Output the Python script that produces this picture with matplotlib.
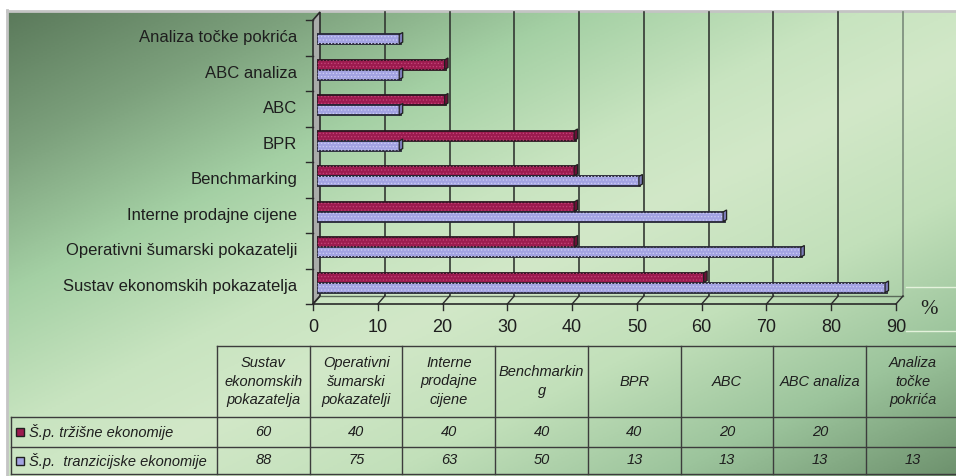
import numpy as np
import matplotlib.pyplot as plt
from matplotlib.colors import LinearSegmentedColormap
from matplotlib.patches import Polygon, Rectangle
from matplotlib.transforms import ScaledTranslation

plt.rcParams['font.family'] = ['Liberation Sans', 'DejaVu Sans']
plt.rcParams['hatch.linewidth'] = 0.5

# data
categories = ['Sustav ekonomskih pokazatelja', 'Operativni šumarski pokazatelji',
              'Interne prodajne cijene', 'Benchmarking', 'BPR', 'ABC',
              'ABC analiza', 'Analiza točke pokrića']
trzisne = [60, 40, 40, 40, 40, 20, 20, None]
tranzicijske = [88, 75, 63, 50, 13, 13, 13, 13]
table_headers = ['Sustav\nekonomskih\npokazatelja', 'Operativni\nšumarski\npokazatelji',
                 'Interne\nprodajne\ncijene', 'Benchmarkin\ng', 'BPR', 'ABC',
                 'ABC analiza', 'Analiza\ntočke\npokrića']
series_names = ['Š.p. tržišne ekonomije', 'Š.p.  tranzicijske ekonomije']
x_ticks = list(range(0, 100, 10))

RED = '#9c1b4f'
BLUE = '#a3a3e2'
INK = '#1e1e1e'

W, H = 956, 476
fig = plt.figure(figsize=(W / 100, H / 100), dpi=100)

# background canvas in pixel coordinates
bg = fig.add_axes([0, 0, 1, 1])
bg.set_xlim(0, W)
bg.set_ylim(H, 0)
bg.axis('off')

yy, xx = np.mgrid[0:1:240j, 0:1:480j]
t = (xx + yy) / 2
cmap = LinearSegmentedColormap.from_list('bg', [
    (0.0, '#5b7a5b'), (0.15, '#7ca07c'), (0.3, '#a4d0a4'),
    (0.45, '#c8e4c0'), (0.55, '#d2e8c8'), (0.7, '#c2e0ba'),
    (0.85, '#9cc49c'), (1.0, '#6e926e')])
bg.imshow(t, cmap=cmap, vmin=0, vmax=1, extent=[8, W, H, 11], aspect='auto',
          interpolation='bilinear', zorder=0)
bg.plot([7, W], [10.5, 10.5], color='#c4c4c4', lw=2, zorder=1)
bg.plot([7.5, 7.5], [10, H], color='#c4c4c4', lw=2, zorder=1)

# chart axes (middle depth plane)
mx0, mx1 = 316.5, 899.5
my0, my1 = 16, 300
ax = fig.add_axes([mx0 / W, 1 - my1 / H, (mx1 - mx0) / W, (my1 - my0) / H])
ax.set_xlim(0, 90)
ax.set_ylim(-0.5, len(categories) - 0.5)
ax.axis('off')


def shift(dx, dy):
    return ax.transData + ScaledTranslation(dx / 100, dy / 100, fig.dpi_scale_trans)


front = shift(-3.5, -4)
back = shift(3.5, 4)


def px(tr, x, y):
    dx, dy = tr.transform((x, y))
    return dx, H - dy


ytop = len(categories) - 0.5
ybot = -0.5

# back wall gridlines
for v in x_ticks[1:]:
    (x1, y1), (x2, y2) = px(back, v, ybot), px(back, v, ytop)
    bg.plot([x1, x2], [y1, y2], color='#333833' if v < 90 else '#7a8a7a', lw=1.2, zorder=2)

# left wall
wall = [px(front, 0, ybot), px(front, 0, ytop), px(back, 0, ytop), px(back, 0, ybot)]
bg.add_patch(Polygon(wall, closed=True, facecolor='#a9aba9', edgecolor='#2a2a2a', lw=1.2, zorder=3))

# floor
(fx0, fy0), (fx1, fy1) = px(front, 0, ybot), px(front, 90, ybot)
(bx0, by0), (bx1, by1) = px(back, 0, ybot), px(back, 90, ybot)
bg.plot([fx0, fx1], [fy0, fy1], color='#2a2a2a', lw=1.2, zorder=3)
bg.plot([bx0, bx1], [by0, by1], color='#5a6a5a', lw=1, zorder=3)
for v in x_ticks:
    (ax1, ay1), (ax2, ay2) = px(front, v, ybot), px(back, v, ybot)
    bg.plot([ax1, ax2], [ay1, ay2], color='#2a2a2a', lw=1, zorder=3)
    bg.plot([ax1, ax1], [ay1, ay1 + 6], color='#2a2a2a', lw=1, zorder=3)

# category ticks on the front-left edge
for k in range(len(categories) + 1):
    x1, y1 = px(front, 0, k - 0.5)
    bg.plot([x1 - 7, x1], [y1, y1], color='#2a2a2a', lw=1, zorder=3)

# bars (red above blue within each category)
y = np.arange(len(categories))
h = 0.27
red_y = [yi + 0.127 for yi, v in zip(y, trzisne) if v is not None]
red_v = [v for v in trzisne if v is not None]
blue_y = y - 0.155
ax.barh(red_y, red_v, height=h, color=RED, edgecolor='#2b1620', lw=1.3, zorder=4)
ax.barh(red_y, red_v, height=h, fill=False, hatch='.....', edgecolor='#c4457a', lw=0, zorder=5)
ax.barh(blue_y, tranzicijske, height=h, color=BLUE, edgecolor='#262636', lw=1.3, zorder=4)
ax.barh(blue_y, tranzicijske, height=h, fill=False, hatch='.....', edgecolor='#cfcff4', lw=0, zorder=5)

# bar end caps
for vals, ys, col in [(red_v, red_y, '#6a1036'), (tranzicijske, blue_y, '#7c7cb8')]:
    for v, yi in zip(vals, ys):
        a = px(ax.transData, v, yi - h / 2)
        b = px(ax.transData, v, yi + h / 2)
        cap = [(a[0] - 1.5, a[1]), (b[0] - 1.5, b[1]), (b[0] + 2, b[1] - 2),
               (a[0] + 2, a[1] - 2)]
        ax.add_patch(Polygon(cap, closed=True, facecolor=col, edgecolor='#202020',
                             lw=0.9, transform=bg.transData, zorder=6, clip_on=False))

# category labels
for i, name in enumerate(categories):
    ax.text(0, i, name, transform=front + ScaledTranslation(-0.16, 0, fig.dpi_scale_trans),
            ha='right', va='center', fontsize=12, color=INK)

# x tick labels
for v in x_ticks:
    ax.text(v, ybot, str(v), transform=front + ScaledTranslation(0, -0.23, fig.dpi_scale_trans),
            ha='center', va='center', fontsize=13, color=INK)

bg.text(929, 310, '%', fontsize=15, family='Liberation Serif', ha='center', va='center', color=INK)
bg.plot([906, W], [287, 287], color='#e4f2dc', lw=1, zorder=1)
bg.plot([906, W], [331, 331], color='#e4f2dc', lw=1, zorder=1)

# data table
col_w = 92.75
col_edges = [217 + col_w * k for k in range(len(categories) + 1)]
top, head_bot, r1_bot, r2_bot = 346, 417, 447, 474
lc = '#3c3c3c'
bg.plot([col_edges[0], W], [top, top], color=lc, lw=1, zorder=3)
for yl in (head_bot, r1_bot, r2_bot):
    bg.plot([11, W], [yl, yl], color=lc, lw=1, zorder=3)
for xe in col_edges:
    bg.plot([xe, xe], [top, r2_bot], color=lc, lw=1, zorder=3)
bg.plot([11, 11], [head_bot, r2_bot], color=lc, lw=1, zorder=3)

for k, head in enumerate(table_headers):
    cx = (col_edges[k] + col_edges[k + 1]) / 2
    bg.text(cx, (top + head_bot) / 2, head, ha='center', va='center', fontsize=10.5,
            style='italic', linespacing=1.45, multialignment='center', color=INK, zorder=4)
rows = [(trzisne, (head_bot + r1_bot) / 2), (tranzicijske, (r1_bot + r2_bot) / 2)]
for vals, cy in rows:
    for k, v in enumerate(vals):
        if v is None:
            continue
        cx = (col_edges[k] + col_edges[k + 1]) / 2
        bg.text(cx, cy, str(v), ha='center', va='center', fontsize=10.5, style='italic',
                color=INK, zorder=4)
for (name, col), (_, cy) in zip(zip(series_names, [RED, BLUE]), rows):
    bg.add_patch(Rectangle((16, cy - 4), 8, 8, facecolor=col, edgecolor='#202020', lw=1, zorder=4))
    bg.text(29, cy + 0.5, name, ha='left', va='center', fontsize=10.5, style='italic',
            color=INK, zorder=4)

fig.savefig('out.png', dpi=100)
